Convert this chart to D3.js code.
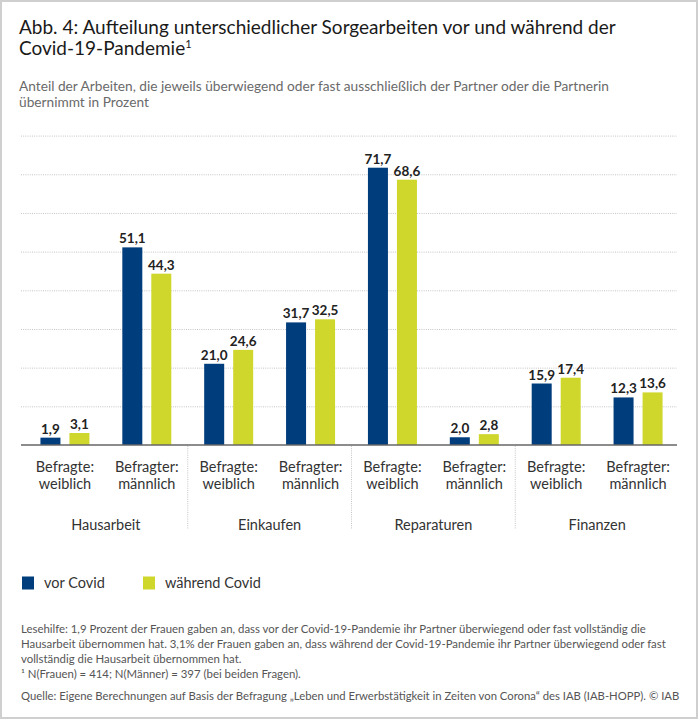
<!DOCTYPE html>
<html>
<head>
<meta charset="utf-8">
<script src="https://cdn.jsdelivr.net/npm/d3@7"></script>
<style>
  html, body { margin: 0; padding: 0; background: #fff; }
  svg { display: block; font-family: Lato, "Open Sans", sans-serif; }
</style>
</head>
<body>
<svg id="chart" width="698" height="720"></svg>
<script>
// ---- data ----
const categories = ["Hausarbeit", "Einkaufen", "Reparaturen", "Finanzen"];
const respondents = [["Befragte:", "weiblich"], ["Befragter:", "männlich"]];
const seriesNames = ["vor Covid", "während Covid"];
const vorCovid = [1.9, 51.1, 21.0, 31.7, 71.7, 2.0, 15.9, 12.3];
const waehrendCovid = [3.1, 44.3, 24.6, 32.5, 68.6, 2.8, 17.4, 13.6];
const yTicks = [10, 20, 30, 40, 50, 60, 70, 80];
const colors = ["#003d7c", "#cfd72d"];

// ---- build rows ----
const rows = [];
categories.forEach((c, ci) => {
  respondents.forEach((r, ri) => {
    const i = ci * 2 + ri;
    rows.push({ key: c + "|" + ri, cat: c, resp: r, values: [vorCovid[i], waehrendCovid[i]] });
  });
});

const de = d3.formatLocale({ decimal: ",", thousands: ".", grouping: [3], currency: ["", " €"] });
const fmt = de.format(".1f");

const svg = d3.select("#chart");

// frame
svg.append("rect").attr("x", 1).attr("y", 1).attr("width", 696).attr("height", 717)
  .attr("fill", "#fff").attr("stroke", "#cfcfcf").attr("stroke-width", 2);

// title
const title = svg.append("text").attr("x", 19).attr("y", 34)
  .attr("font-size", 19).attr("fill", "#1a1a1a");
title.text("Abb. 4: Aufteilung unterschiedlicher Sorgearbeiten vor und während der");
const t2 = svg.append("text").attr("x", 19).attr("y", 55)
  .attr("font-size", 19).attr("fill", "#1a1a1a");
t2.append("tspan").text("Covid-19-Pandemie");
t2.append("tspan").attr("font-size", 11).attr("dy", -7).text("1");

svg.append("text").attr("x", 19).attr("y", 90.5).attr("font-size", 13.7).attr("fill", "#6a6a6a")
  .text("Anteil der Arbeiten, die jeweils überwiegend oder fast ausschließlich der Partner oder die Partnerin");
svg.append("text").attr("x", 19).attr("y", 106.5).attr("font-size", 13.7).attr("fill", "#6a6a6a")
  .text("übernimmt in Prozent");

// scales
const y = d3.scaleLinear().domain([0, 80]).range([445, 135.6]);
const x0 = d3.scaleBand().domain(rows.map(d => d.key)).range([24, 679]).padding(0);
const innerW = 49;
const x1 = d3.scaleBand().domain([0, 1]).range([0, innerW]).paddingInner(9 / 29).paddingOuter(0);

// grid
const grid = svg.append("g")
  .call(d3.axisLeft(y).tickValues(yTicks).tickSize(-656).tickFormat(""));
grid.attr("transform", "translate(21,0)");
grid.select(".domain").remove();
grid.selectAll(".tick line").attr("stroke", "#c4c4c4").attr("stroke-dasharray", "1,1.2").attr("stroke-width", 1);

// separators
const sepX = [2, 4, 6].map(i => x0(rows[i].key));
svg.selectAll(".sep").data(sepX).enter().append("line")
  .attr("x1", d => d).attr("x2", d => d).attr("y1", 446).attr("y2", 529)
  .attr("stroke", "#c4c4c4").attr("stroke-dasharray", "1,1.2");

// bars
const groups = svg.selectAll(".grp").data(rows).enter().append("g")
  .attr("transform", d => `translate(${x0(d.key) + (x0.bandwidth() - innerW) / 2},0)`);
groups.selectAll("rect").data(d => d.values.map((v, i) => ({ v, i }))).enter().append("rect")
  .attr("x", d => x1(d.i)).attr("width", x1.bandwidth())
  .attr("y", d => y(d.v)).attr("height", d => y(0) - y(d.v))
  .attr("fill", d => colors[d.i]);
groups.selectAll("text.val").data(d => d.values.map((v, i) => ({ v, i }))).enter().append("text")
  .attr("class", "val")
  .attr("x", d => x1(d.i) + x1.bandwidth() / 2).attr("y", d => y(d.v) - 4)
  .attr("text-anchor", "middle").attr("font-size", 13.5).attr("font-weight", 700).attr("fill", "#222")
  .text(d => fmt(d.v));

// baseline axis
const xAxis = svg.append("g").attr("transform", "translate(0,445)")
  .call(d3.axisBottom(x0).tickSize(0).tickFormat(""));
xAxis.select(".domain").attr("stroke", "#666").attr("stroke-width", 1.5).attr("d", "M-2,0H654").attr("transform", "translate(23,0)");

// respondent labels
rows.forEach(d => {
  const cx = x0(d.key) + x0.bandwidth() / 2;
  d.resp.forEach((line, li) => {
    svg.append("text").attr("x", cx).attr("y", 471.5 + li * 17.6)
      .attr("text-anchor", "middle").attr("font-size", 14.5).attr("fill", "#333").text(line);
  });
});

// category labels
categories.forEach((c, ci) => {
  const cx = x0(rows[ci * 2].key) + x0.bandwidth();
  svg.append("text").attr("x", cx).attr("y", 530)
    .attr("text-anchor", "middle").attr("font-size", 14.5).attr("fill", "#333").text(c);
});

// legend
const legX = [22, 143];
seriesNames.forEach((s, i) => {
  svg.append("rect").attr("x", legX[i]).attr("y", 576.5).attr("width", 12).attr("height", 13).attr("fill", colors[i]);
  svg.append("text").attr("x", legX[i] + 22).attr("y", 588).attr("font-size", 14.5).attr("fill", "#333").text(s);
});

// notes
const notes = [
  "Lesehilfe: 1,9 Prozent der Frauen gaben an, dass vor der Covid-19-Pandemie ihr Partner überwiegend oder fast vollständig die",
  "Hausarbeit übernommen hat. 3,1% der Frauen gaben an, dass während der Covid-19-Pandemie ihr Partner überwiegend oder fast",
  "vollständig die Hausarbeit übernommen hat.",
  "¹ N(Frauen) = 414; N(Männer) = 397 (bei beiden Fragen)."
];
notes.forEach((n, i) => {
  svg.append("text").attr("x", 21).attr("y", 633 + i * 15).attr("font-size", 11.4).attr("fill", "#555").text(n);
});
svg.append("text").attr("x", 21).attr("y", 700).attr("font-size", 11.3).attr("fill", "#555")
  .text("Quelle: Eigene Berechnungen auf Basis der Befragung „Leben und Erwerbstätigkeit in Zeiten von Corona“ des IAB (IAB-HOPP). © IAB");
</script>
</body>
</html>
